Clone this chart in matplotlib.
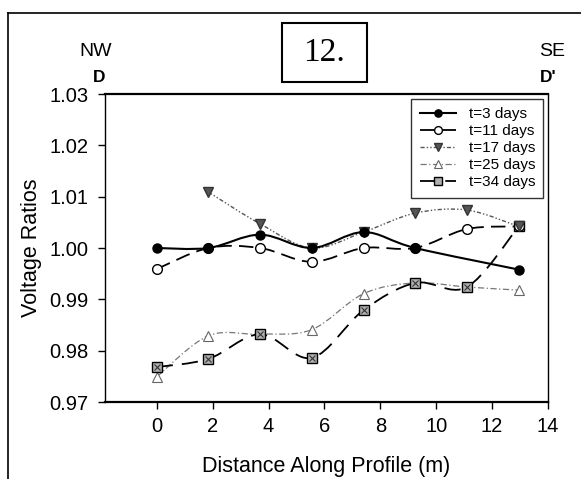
import numpy as np
import matplotlib.pyplot as plt
from matplotlib.path import Path
from matplotlib.patches import PathPatch, Rectangle
from matplotlib.lines import Line2D

plt.rcParams['font.family'] = ['Liberation Sans', 'DejaVu Sans']

# values
dist = [0, 1.85, 3.7, 5.55, 7.4, 9.25, 11.1, 12.95]
t3_x = [0, 1.85, 3.7, 5.55, 7.4, 9.25, 12.95]
t3_y = [1.000, 1.000, 1.0026, 1.000, 1.0031, 1.000, 0.9958]
t11_y = [0.9959, 1.000, 1.000, 0.9973, 1.000, 1.000, 1.0037, 1.0042]
t17_x = [1.85, 3.7, 5.55, 7.4, 9.25, 11.1, 12.95]
t17_y = [1.0109, 1.0047, 1.000, 1.0031, 1.0068, 1.0074, 1.0042]
t25_y = [0.9749, 0.9829, 0.9832, 0.9841, 0.9911, 0.9932, 0.9924, 0.9918]
t34_y = [0.9768, 0.9784, 0.9832, 0.9786, 0.9879, 0.9932, 0.9924, 1.0042]
labels = ['t=3 days', 't=11 days', 't=17 days', 't=25 days', 't=34 days']
xticks = [0, 2, 4, 6, 8, 10, 12, 14]
yticks = [0.97, 0.98, 0.99, 1.00, 1.01, 1.02, 1.03]


def smooth(x, y):
    # catmull-rom through the points, drawn as bezier segments
    p = np.column_stack([x, y])
    e = np.vstack([p[0], p, p[-1]])
    verts = [p[0]]
    codes = [Path.MOVETO]
    for i in range(len(p) - 1):
        p0, p1, p2, p3 = e[i], e[i+1], e[i+2], e[i+3]
        verts += [p1 + (p2 - p0) / 6, p2 - (p3 - p1) / 6, p2]
        codes += [Path.CURVE4] * 3
    return Path(verts, codes)


fig = plt.figure(figsize=(5.81, 4.79), dpi=100)
ax = fig.add_axes([105/581, 1-402/479, 443/581, 308/479])

styles = [
    dict(x=t3_x, y=t3_y, color='k', ls='-', lw=1.5,
         mk=dict(marker='o', ms=6.5, mfc='k', mec='k')),
    dict(x=dist, y=t11_y, color='k', ls=(0, (8, 4)), lw=1.3,
         mk=dict(marker='o', ms=7, mfc='white', mec='k', mew=1)),
    dict(x=t17_x, y=t17_y, color='#555555', ls=(0, (3, 1.5, 1, 1.5, 1, 1.5)), lw=1.0,
         mk=dict(marker='v', ms=6.5, mfc='#555555', mec='#333333')),
    dict(x=dist, y=t25_y, color='#777777', ls=(0, (5, 2, 1, 2)), lw=0.9,
         mk=dict(marker='^', ms=7, mfc='white', mec='#666666', mew=0.8)),
    dict(x=dist, y=t34_y, color='k', ls=(0, (9, 5)), lw=1.3,
         mk=dict(marker='s', ms=6.5, mfc='#b0b0b0', mec='k', mew=1)),
]

order = [3, 4, 1, 2, 0]
handles = [None] * 5
for i in order:
    s = styles[i]
    ax.add_patch(PathPatch(smooth(s['x'], s['y']), fill=False, ec=s['color'],
                           ls=s['ls'], lw=s['lw'], zorder=2))
    ax.plot(s['x'], s['y'], ls='none', zorder=3, **s['mk'])
    if i == 4:
        ax.plot(s['x'], s['y'], ls='none', marker='x', ms=4, mec='#333333',
                mew=0.8, zorder=3)
    handles[i] = Line2D([], [], color=s['color'], ls=s['ls'], lw=s['lw'], **s['mk'])

ax.set_xlim(-1.85, 14)
ax.set_ylim(0.97, 1.03)
ax.set_xticks(xticks)
ax.set_yticks(yticks)
ax.set_yticklabels([f'{v:.2f}' for v in yticks])
ax.tick_params(direction='out', length=5, labelsize=14.5, width=1)
ax.tick_params(axis='y', pad=7)
ax.tick_params(axis='x', pad=6)
for sp in ax.spines.values():
    sp.set_linewidth(1)
ax.spines['bottom'].set_linewidth(1.6)
ax.spines['top'].set_linewidth(1.6)

ax.set_ylabel('Voltage Ratios', fontsize=15.5, labelpad=5)
ax.set_xlabel('Distance Along Profile (m)', fontsize=15.5, labelpad=14)

leg = ax.legend(handles, labels, loc='upper right', fontsize=11,
                frameon=True, fancybox=False, edgecolor='k', handlelength=2.4,
                borderaxespad=0.3, labelspacing=0.2, handletextpad=0.8,
                borderpad=0.55, markerscale=0.8)
leg.get_frame().set_linewidth(1)

# direction labels
fig.text(96/581, 1-52/479, 'NW', fontsize=14, ha='center', va='center')
fig.text(552/581, 1-52/479, 'SE', fontsize=14, ha='center', va='center')
fig.text(99/581, 1-77/479, 'D', fontsize=12.5, fontweight='bold', ha='center', va='center')
fig.text(548/581, 1-77/479, "D'", fontsize=12.5, fontweight='bold', ha='center', va='center')

# boxed figure number
fig.add_artist(Rectangle((282/581, 1-82/479), 85/581, 59/479, transform=fig.transFigure,
                         fill=False, ec='k', lw=1.5))
fig.text(324.5/581, 1-53/479, '12.', family='Liberation Serif', fontsize=24,
         ha='center', va='center')

# outer frame
fig.add_artist(Line2D([8/581, 8/581], [0, 1-13/479], transform=fig.transFigure, color='k', lw=1.2))
fig.add_artist(Line2D([8/581, 1], [1-13/479, 1-13/479], transform=fig.transFigure, color='k', lw=1.2))

fig.savefig('out.png', dpi=100)
